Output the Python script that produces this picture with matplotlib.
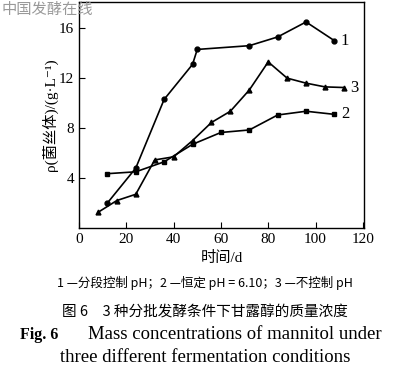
import matplotlib.pyplot as plt
import numpy as np

plt.rcParams['font.family'] = ['Liberation Serif', 'Noto Sans CJK SC', 'DejaVu Sans']

# series 1: staged pH control (circles)
t1 = np.array([12., 24., 36., 48., 50., 72., 84., 96., 108.])
c1 = np.array([2.0, 4.8, 10.3, 13.1, 14.3, 14.6, 15.3, 16.5, 15.0])

# series 2: constant pH 6.10 (squares)
t2 = np.array([12., 24., 36., 48., 60., 72., 84., 96., 108.])
c2 = np.array([4.35, 4.5, 5.3, 6.7, 7.65, 7.85, 9.05, 9.35, 9.1])

# series 3: no pH control (triangles)
t3 = np.array([8., 16., 24., 32., 40., 48., 56., 64., 72., 80., 88., 96., 104., 112.])
c3 = np.array([1.25, 2.2, 2.7, 5.45, 5.7, 7.0, 8.45, 9.35, 11.05, 13.3, 12.0, 11.6, 11.3, 11.25])

xticks = [0, 20, 40, 60, 80, 100, 120]
yticks = [4, 8, 12, 16]

f = plt.figure(figsize=(4.1, 3.89), dpi=100)
ax = f.add_axes([0.1927, 0.4139, 0.6951, 0.581])

lw = 1.2
ax.plot(t1, c1, '-o', color='k', lw=lw, ms=3.5)
ax.plot(t2, c2, '-s', color='k', lw=lw, ms=3.5)
ax.plot(t3, c3, '-^', color='k', lw=lw, ms=3.5)

ax.set_xlim(0, 120.5)
ax.set_ylim(0, 18.1)
ax.set_xticks(xticks)
ax.set_yticks(yticks)
ax.tick_params(direction='in', labelsize=11, length=4, width=0.8)
for s in ax.spines.values():
    s.set_linewidth(1.0)

# curve labels
ax.text(110.5, 15.0, '1', fontsize=12, va='center')
ax.text(114.5, 11.25, '3', fontsize=12, va='center')
ax.text(111.0, 9.1, '2', fontsize=12, va='center')

ax.set_xlabel('时间/d', fontsize=11, labelpad=4)
ax.set_ylabel('ρ(菌丝体)/(g·L⁻¹)', fontsize=11, labelpad=1)

# watermark
f.text(0.003, 0.975, '中国发酵在线', fontsize=11, color='#999999', family='Noto Sans CJK SC', va='center')

# caption
f.text(0.5, 0.273, '1 —分段控制 pH；2 —恒定 pH = 6.10；3 —不控制 pH', fontsize=9, ha='center', va='center',
       family=['Noto Sans CJK SC'])
f.text(0.5, 0.198, '图 6　3 种分批发酵条件下甘露醇的质量浓度', fontsize=10.5, ha='center', va='center',
       family=['Noto Sans CJK SC'])
f.text(0.05, 0.139, 'Fig. 6', fontsize=11.5, fontweight='bold', ha='left', va='center')
f.text(0.215, 0.139, 'Mass concentrations of mannitol under', fontsize=13.5, ha='left', va='center')
f.text(0.5, 0.08, 'three different fermentation conditions', fontsize=13.5, ha='center', va='center')

f.savefig('out.png', dpi=100)
